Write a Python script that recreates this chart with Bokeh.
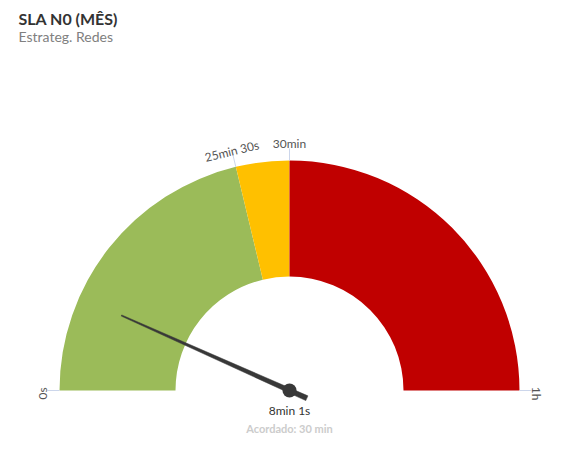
import numpy as np
from bokeh.plotting import figure
from bokeh.models import Range1d, Label, ColumnDataSource
from bokeh.core.properties import value
from bokeh.embed import file_html
from bokeh.resources import INLINE

# ---- data ----
gauge_min = 0
gauge_max = 3600  # seconds (1h)
band_starts = [0, 1530, 1800]
band_ends = [1530, 1800, 3600]
band_colors = ["#9BBB59", "#FFC000", "#C00000"]
tick_values = [0, 1530, 1800, 3600]
tick_labels = ["0s", "25min 30s", "30min", "1h"]
needle_value = 481  # 8min 1s
value_label = "8min 1s"
target_label = "Acordado: 30 min"
title_text = "SLA N0 (MÊS)"
subtitle_text = "Estrateg. Redes"

R_OUT = 230
R_IN = 114

def ang(v):
    return np.pi - (np.asarray(v, dtype=float) - gauge_min) / (gauge_max - gauge_min) * np.pi

p = figure(width=562, height=436, output_backend="svg", toolbar_location=None,
           x_range=Range1d(-289, 273), y_range=Range1d(-46, 390),
           x_axis_location=None, y_axis_location=None, min_border=0,
           outline_line_color=None, background_fill_color="white",
           border_fill_color="white")
p.grid.visible = False

# bands (wedge end angle is the start value since angles decrease)
src = ColumnDataSource(dict(start=ang(band_ends), end=ang(band_starts), color=band_colors))
p.annular_wedge(x=0, y=0, inner_radius=R_IN, outer_radius=R_OUT,
                start_angle="start", end_angle="end", fill_color="color",
                line_color=None, source=src)

# ticks
ta = ang(tick_values)
p.segment(x0=R_OUT * np.cos(ta), y0=R_OUT * np.sin(ta),
          x1=(R_OUT + 12) * np.cos(ta), y1=(R_OUT + 12) * np.sin(ta),
          line_color="#ccd6eb", line_width=1)
lr = 247
tsrc = ColumnDataSource(dict(x=lr * np.cos(ta), y=lr * np.sin(ta) - 3 * np.abs(np.cos(ta)),
                             angle=ta - np.pi / 2, text=tick_labels))
p.text(x="x", y="y", text="text", angle="angle", source=tsrc,
       text_font=value("Lato"), text_font_size="12px", text_color="#555555",
       text_align="center", text_baseline="alphabetic")

# needle
a = float(ang(needle_value))
L, rear, bw, tw = 0.8 * R_OUT, 19, 2.6, 0.6
ux, uy = np.cos(a), np.sin(a)
nx, ny = -uy, ux
xs = [-rear * ux + bw * nx, L * ux + tw * nx, L * ux - tw * nx, -rear * ux - bw * nx]
ys = [-rear * uy + bw * ny, L * uy + tw * ny, L * uy - tw * ny, -rear * uy - bw * ny]
p.patch(xs, ys, fill_color="#383838", line_color="#383838", line_width=0.5)
p.scatter(x=[0], y=[0], size=14, fill_color="#383838", line_color=None)

# texts
p.add_layout(Label(x=-271, y=363, text=title_text, text_font="Lato",
                   text_font_size="16px", text_font_style="bold", text_color="#333333"))
p.add_layout(Label(x=-271, y=346, text=subtitle_text, text_font="Lato",
                   text_font_size="14px", text_color="#808080"))
p.add_layout(Label(x=0, y=-27, text=value_label, text_font="Lato",
                   text_font_size="12px", text_color="#333333", text_align="center"))
p.add_layout(Label(x=0, y=-44, text=target_label, text_font="Lato",
                   text_font_size="11px", text_font_style="bold", text_color="#cccccc",
                   text_align="center"))

open("out.html", "w").write(file_html(p, INLINE))
